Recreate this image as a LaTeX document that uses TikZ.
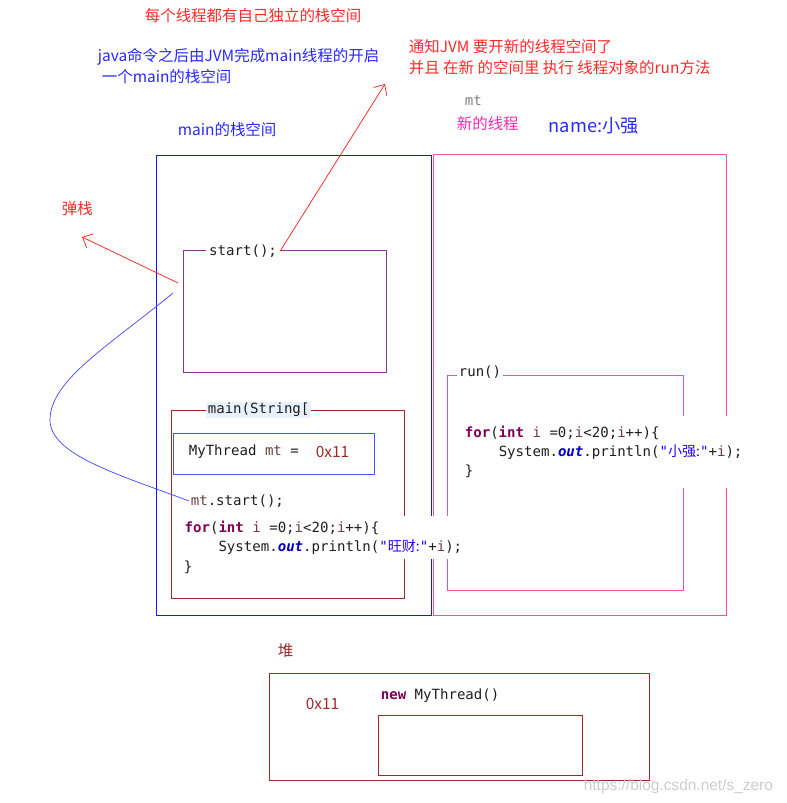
\documentclass[tikz,border=0pt]{standalone}
\usepackage{fontspec}
\setmainfont{Noto Sans CJK SC}
\setmonofont{DejaVu Sans Mono}
\newfontfamily\cjk{Noto Sans CJK SC}
\newfontfamily\wmfont{Liberation Sans}
\usetikzlibrary{arrows.meta}

\definecolor{notered}{RGB}{255,40,40}
\definecolor{noteblue}{RGB}{40,40,255}
\definecolor{notepink}{RGB}{250,40,170}
\definecolor{stackblue}{RGB}{20,20,255}
\definecolor{threadpink}{RGB}{245,80,160}
\definecolor{framepurple}{RGB}{140,50,150}
\definecolor{framebrown}{RGB}{160,40,40}
\definecolor{refblue}{RGB}{60,90,255}
\definecolor{kwcol}{RGB}{127,0,85}
\definecolor{varcol}{RGB}{106,62,62}
\definecolor{fieldcol}{RGB}{0,0,192}
\definecolor{strcol}{RGB}{42,0,255}
\definecolor{codetext}{RGB}{30,30,30}
\definecolor{labelbg}{RGB}{232,242,254}

\newcommand\kw[1]{\textcolor{kwcol}{\bfseries #1}}
\newcommand\jvar[1]{\textcolor{varcol}{#1}}
\newcommand\jfield[1]{\textcolor{fieldcol}{\bfseries\itshape #1}}
\newcommand\jstr[1]{\textcolor{strcol}{#1}}

\tikzset{
	note/.style={inner sep=1pt, anchor=west, font=\fontsize{11}{14}\selectfont},
	codeline/.style={inner sep=1pt, anchor=west, text=codetext, font=\ttfamily\fontsize{10}{14}\selectfont},
	codeblock/.style={codeline, anchor=north west, align=left, fill=white},
	redarrow/.style={red!90, line width=0.5pt, -{Straight Barb[length=6pt,width=11pt]}},
}

\begin{document}
\begin{tikzpicture}[x=0.025cm, y=-0.025cm, line width=0.6pt]
	\useasboundingbox (0,0) rectangle (787,803);
	% notes
	\node[note, text=notered] (title) at (143,16) {每个线程都有自己独立的栈空间};
	\node[note, text=noteblue] (jvmline1) at (96,57) {java命令之后由JVM完成main线程的开启};
	\node[note, text=noteblue] (jvmline2) at (100,77) {一个main的栈空间};
	\node[note, text=noteblue] (mainname) at (176,130) {main的栈空间};
	\node[note, text=notered] (newline1) at (407,47) {通知JVM 要开新的线程空间了};
	\node[note, text=notered] (newline2) at (407,68) {并且 在新 的空间里 执行 线程对象的run方法};
	\node[codeline, text=gray] (mtname) at (463,101) {mt};
	\node[note, text=notepink] (newthread) at (455,124) {新的线程};
	\node[note, text=noteblue, font=\fontsize{13}{15}\selectfont] (threadname) at (547,126) {name:小强};
	\node[note, text=notered] (popnote) at (60,209) {弹栈};
	%
	\draw[stackblue] (156,155) rectangle (431,615);
	\draw[threadpink] (433,154) rectangle (726,615);
	\draw[framepurple] (183,250) rectangle (386,372);
	\draw[framebrown] (171,410) rectangle (404,598);
	\draw[threadpink] (447,375) rectangle (683,590);
	\draw[refblue] (173,433) rectangle (374,474);
	%
	\node[codeline, fill=white, inner xsep=2pt] (startcall) at (206,251) {start();};
	\node[codeline, fill=labelbg] (maincall) at (206,410) {main(String[};
	\node[codeline, fill=white] (runcall) at (457,372) {run()};
	%
	\node[codeline] (mtref) at (187,452) {MyThread \jvar{mt} =};
	\node[note, text=framebrown] (mtaddr) at (314,452) {0x11};
	\node[codeline] (mtcall) at (189,501) {\jvar{mt}.start();};
	\node[codeblock, inner xsep=3pt, inner ysep=3pt] (mainloop) at (180,516) {\kw{for}(\kw{int} \jvar{i} =0;\jvar{i}<20;\jvar{i}++)\{\\\hspace*{2.41em}System.\jfield{out}.println(\jstr{"{\cjk 旺财:}"}+\jvar{i});};
	\node[codeline] (mainclose) at (182,567) {\}};
	\node[codeblock, font=\ttfamily\fontsize{10}{13.5}\selectfont, inner xsep=6pt, inner ysep=7pt] (runloop) at (456,416) {\kw{for}(\kw{int} \jvar{i} =0;\jvar{i}<20;\jvar{i}++)\{\\\hspace*{2.41em}System.\jfield{out}.println(\jstr{"{\cjk 小强:}"}+\jvar{i});\\\}};
	%
	\node[note, text=framebrown] (heapname) at (276,651) {堆};
	\draw[framebrown] (269,673) rectangle (649,780);
	\draw[framebrown] (378,715) rectangle (582,775);
	\node[note, text=framebrown] (heapaddr) at (304,704) {0x11};
	\node[codeline] (newobj) at (379,696) {\kw{new} MyThread()};
	\node[inner sep=1pt, anchor=west, text=gray!40, font=\wmfont\fontsize{11}{13}\selectfont] (watermark) at (582,786) {https://blog.csdn.net/s\_zero};
	%
	\coordinate (jvmtip) at (385,84);
	\draw[redarrow] (startcall.east) -- (jvmtip);
	\coordinate (popfrom) at (178,283);
	\coordinate (poptip) at (82,237);
	\draw[redarrow] (popfrom) -- (poptip);
	\coordinate (curvefrom) at (173,293);
	\draw[stackblue!80, line width=0.5pt] (curvefrom) .. controls (110,345) and (50,380) .. (50,420) .. controls (50,455) and (120,475) .. (mtcall.west);
\end{tikzpicture}
\end{document}
